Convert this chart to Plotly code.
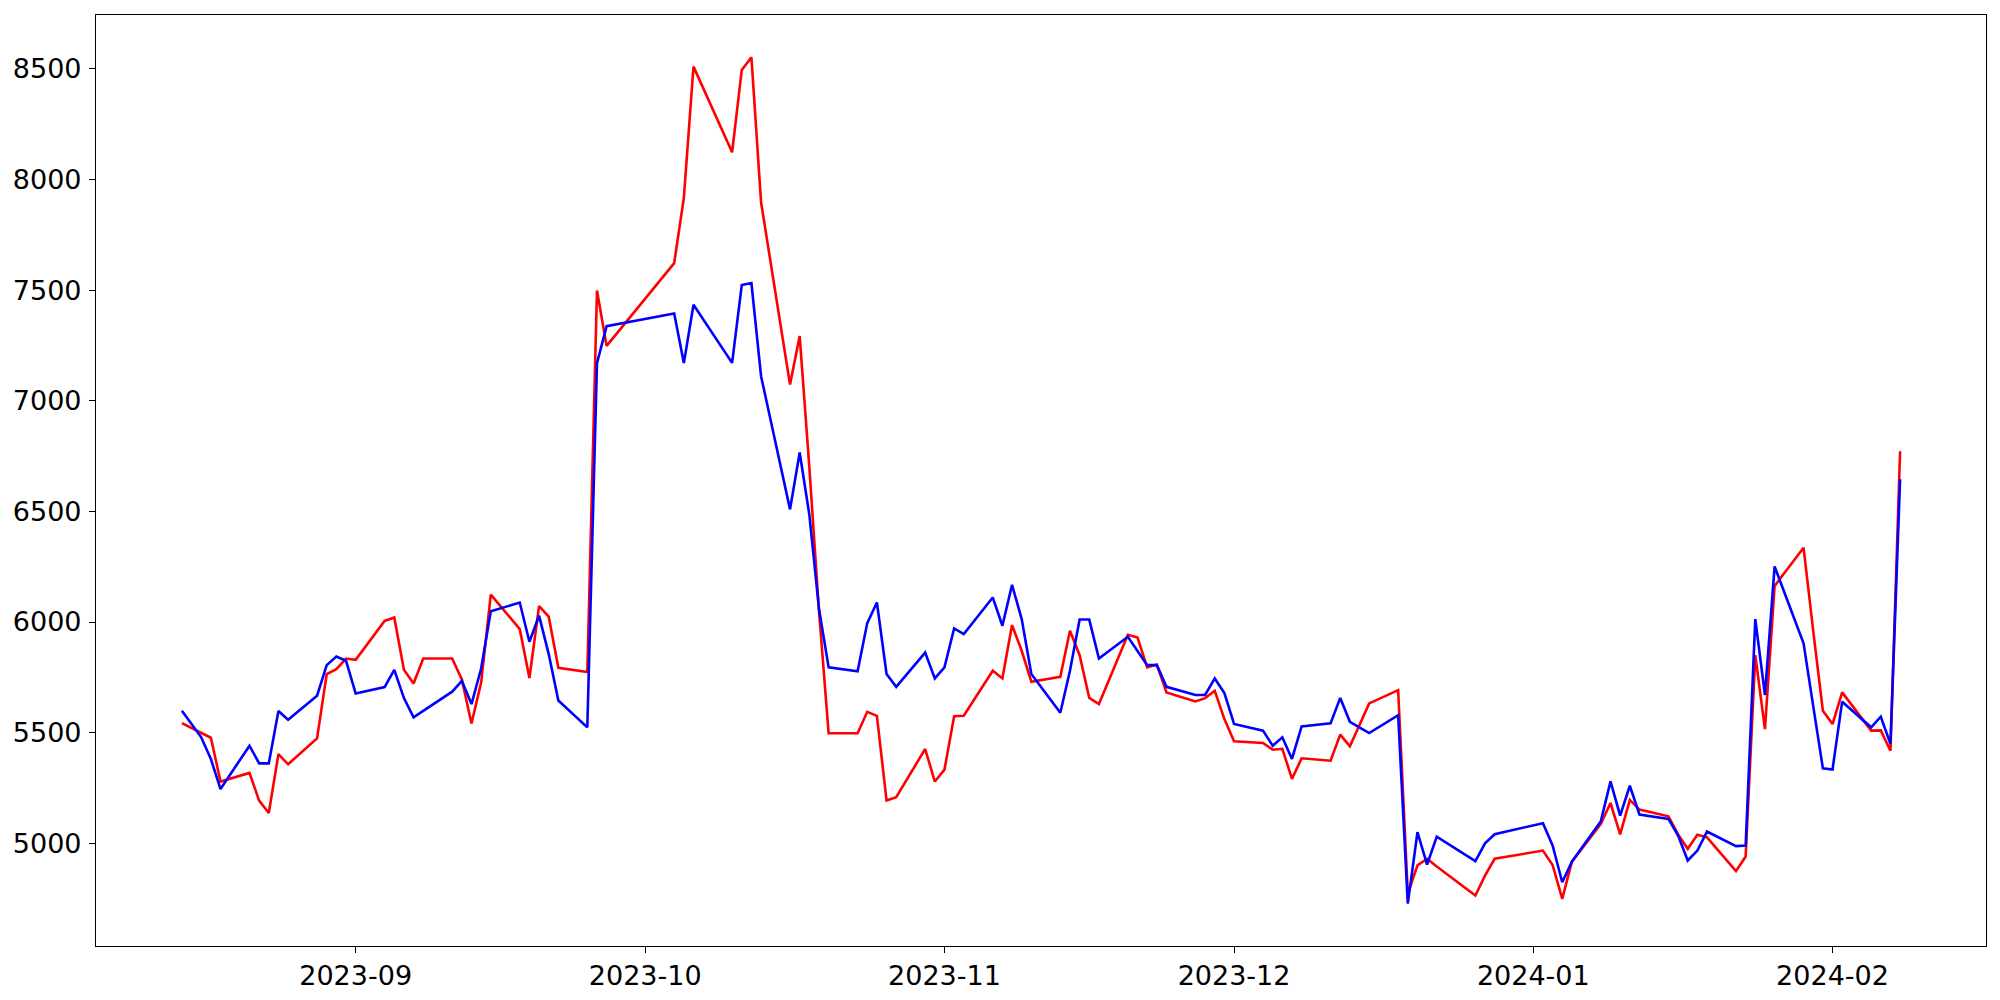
import plotly.graph_objects as go
import pandas as pd

dates = [
    "2023-08-14", "2023-08-15", "2023-08-16", "2023-08-17", "2023-08-18",
    "2023-08-21", "2023-08-22", "2023-08-23", "2023-08-24", "2023-08-25",
    "2023-08-28", "2023-08-29", "2023-08-30", "2023-08-31", "2023-09-01",
    "2023-09-04", "2023-09-05", "2023-09-06", "2023-09-07", "2023-09-08",
    "2023-09-11", "2023-09-12", "2023-09-13", "2023-09-14", "2023-09-15",
    "2023-09-18", "2023-09-19", "2023-09-20", "2023-09-21", "2023-09-22",
    "2023-09-25", "2023-09-26", "2023-09-27",
    "2023-10-04", "2023-10-05", "2023-10-06",
    "2023-10-10", "2023-10-11", "2023-10-12", "2023-10-13",
    "2023-10-16", "2023-10-17", "2023-10-18", "2023-10-19", "2023-10-20",
    "2023-10-23", "2023-10-24", "2023-10-25", "2023-10-26", "2023-10-27",
    "2023-10-30", "2023-10-31", "2023-11-01", "2023-11-02", "2023-11-03",
    "2023-11-06", "2023-11-07", "2023-11-08", "2023-11-09", "2023-11-10",
    "2023-11-13", "2023-11-14", "2023-11-15", "2023-11-16", "2023-11-17",
    "2023-11-20", "2023-11-21", "2023-11-22", "2023-11-23", "2023-11-24",
    "2023-11-27", "2023-11-28", "2023-11-29", "2023-11-30", "2023-12-01",
    "2023-12-04", "2023-12-05", "2023-12-06", "2023-12-07", "2023-12-08",
    "2023-12-11", "2023-12-12", "2023-12-13", "2023-12-14", "2023-12-15",
    "2023-12-18", "2023-12-19", "2023-12-20", "2023-12-21", "2023-12-22",
    "2023-12-26", "2023-12-27", "2023-12-28",
    "2024-01-02", "2024-01-03", "2024-01-04", "2024-01-05",
    "2024-01-08", "2024-01-09", "2024-01-10", "2024-01-11", "2024-01-12",
    "2024-01-15", "2024-01-16", "2024-01-17", "2024-01-18", "2024-01-19",
    "2024-01-22", "2024-01-23", "2024-01-24", "2024-01-25", "2024-01-26",
    "2024-01-29", "2024-01-30", "2024-01-31", "2024-02-01", "2024-02-02",
    "2024-02-05", "2024-02-06", "2024-02-07", "2024-02-08",
]

red_values = [
    5543, 5521, 5499, 5477, 5279,
    5318, 5193, 5137, 5403, 5357,
    5474, 5765, 5787, 5835, 5829,
    6005, 6020, 5784, 5722, 5835,
    5835, 5740, 5541, 5726, 6124,
    5968, 5747, 6072, 6024, 5793,
    5774, 7498, 7248,
    7622, 7917, 8510,
    8123, 8495, 8552, 7897,
    7073, 7292, 6700, 6050, 5497,
    5497, 5594, 5576, 5193, 5208,
    5426, 5279, 5333, 5574, 5576,
    5780, 5745, 5986, 5870, 5730,
    5752, 5960, 5850, 5657, 5629,
    5942, 5930, 5795, 5808, 5682,
    5641, 5656, 5689, 5561, 5461,
    5453, 5423, 5427, 5291, 5384,
    5373, 5491, 5438, 5535, 5632,
    5692, 4772, 4900, 4930, 4895,
    4764, 4854, 4930,
    4967, 4902, 4749, 4917,
    5088, 5182, 5040, 5196, 5152,
    5122, 5040, 4975, 5039, 5027,
    4874, 4940, 5850, 5516, 6163,
    6336, 5960, 5599, 5539, 5682,
    5509, 5510, 5418, 6772,
]

blue_values = [
    5599, 5539, 5479, 5381, 5245,
    5441, 5361, 5361, 5598, 5558,
    5667, 5805, 5844, 5825, 5677,
    5706, 5784, 5656, 5569, 5598,
    5685, 5734, 5629, 5790, 6048,
    6088, 5911, 6029, 5855, 5645,
    5524, 7170, 7337,
    7394, 7170, 7434,
    7171, 7523, 7532, 7111,
    6509, 6766, 6485, 6060, 5795,
    5777, 5995, 6088, 5765, 5707,
    5862, 5745, 5795, 5971, 5945,
    6111, 5983, 6168, 6013, 5765,
    5590, 5780, 6011, 6011, 5835,
    5933, 5870, 5805, 5805, 5707,
    5670, 5670, 5745, 5679, 5539,
    5509, 5441, 5479, 5381, 5528,
    5542, 5657, 5549, 5522, 5498,
    5579, 4727, 5050, 4904, 5030,
    4919, 5000, 5041,
    5091, 4990, 4824, 4917,
    5100, 5280, 5125, 5260, 5130,
    5110, 5035, 4922, 4967, 5053,
    4987, 4990, 6013, 5670, 6251,
    5904, 5620, 5339, 5333, 5640,
    5524, 5572, 5449, 6645,
]

x_tick_values = ["2023-09-01", "2023-10-01", "2023-11-01", "2023-12-01", "2024-01-01", "2024-02-01"]
x_tick_labels = ["2023-09", "2023-10", "2023-11", "2023-12", "2024-01", "2024-02"]
y_tick_values = [5000, 5500, 6000, 6500, 7000, 7500, 8000, 8500]

x = pd.to_datetime(dates)

fig = go.Figure()
fig.add_trace(go.Scatter(x=x, y=red_values, mode="lines",
                         line=dict(color="#ff0000", width=2.6), showlegend=False))
fig.add_trace(go.Scatter(x=x, y=blue_values, mode="lines",
                         line=dict(color="#0000ff", width=2.6), showlegend=False))

# matplotlib-like 5% auto margins
span = x.max() - x.min()
x_range = [x.min() - span * 0.05, x.max() + span * 0.05]
all_vals = red_values + blue_values
vmin, vmax = min(all_vals), max(all_vals)
vpad = (vmax - vmin) * 0.05
y_range = [vmin - vpad, vmax + vpad]

axis_common = dict(
    showgrid=False, zeroline=False, automargin=False,
    showline=True, linecolor="black", linewidth=1.1, mirror=True,
    ticks="outside", ticklen=6, tickwidth=1.1, tickcolor="black",
    tickfont=dict(family="DejaVu Sans", size=27, color="black"),
)

# page body adds an 8px offset, so the figure is sized to fit the window
fig.update_layout(
    width=1984, height=984,
    paper_bgcolor="white", plot_bgcolor="white",
    margin=dict(l=88, r=6, t=7, b=46),
    xaxis=dict(range=x_range, tickvals=pd.to_datetime(x_tick_values), ticktext=x_tick_labels,
               **axis_common),
    yaxis=dict(range=y_range, tickvals=y_tick_values, ticktext=[str(v) for v in y_tick_values],
               ticklabelstandoff=2, **axis_common),
)

fig.write_html("out.html")
